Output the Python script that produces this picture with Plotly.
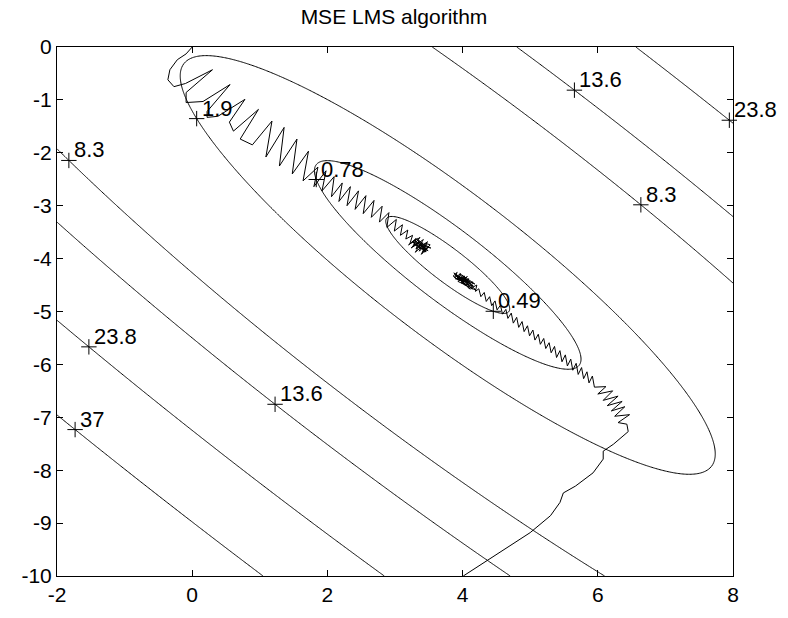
import numpy as np
import plotly.graph_objects as go

# Quadratic MSE surface  J(w) = J_MIN + (w - W_OPT)^T R (w - W_OPT)
R = [[0.515, 0.465],
     [0.465, 0.515]]
W_OPT = [3.78, -4.12]
J_MIN = 0.41
LEVELS = [0.49, 0.78, 1.9, 8.3, 13.6, 23.8, 37]

# contour label anchors (w0, w1) and the level each one belongs to
LABEL_W0 = [-1.78, -1.57, 1.18, -1.85, 0.00, 1.79, 4.43, 5.63, 6.62, 7.93]
LABEL_W1 = [-7.28, -5.71, -6.80, -2.17, -1.42, -2.55, -5.02, -0.84, -3.00, -1.40]
LABEL_LEVEL = [37, 23.8, 13.6, 8.3, 1.9, 0.78, 0.49, 13.6, 8.3, 23.8]

# LMS weight trajectory started at (0, 0)
TRAJ1_W0 = [0.00, -0.09, -0.22, -0.33, -0.36, -0.27, -0.10, 0.30, -0.09, -0.09,
            0.16, 0.56, 0.22, 0.22, 0.38, 0.78, 0.55, 0.61, 0.98, 0.71,
            0.89, 1.18, 1.09, 1.36, 1.29, 1.55, 1.48, 1.72, 1.64, 1.86,
            1.80, 1.98, 1.92, 2.10, 2.06, 2.22, 2.17, 2.34, 2.29, 2.46,
            2.41, 2.57, 2.53, 2.69, 2.65, 2.81, 2.77, 2.91, 2.88, 3.02,
            2.99, 3.11, 3.08, 3.19, 3.16, 3.26, 3.22, 3.31, 3.27, 3.36,
            3.31, 3.41, 3.36, 3.46, 3.40, 3.50, 3.44, 3.38, 3.47, 3.33,
            3.43, 3.29, 3.49, 3.35, 3.45, 3.52, 3.39, 3.48, 3.30, 3.42,
            3.24, 3.37, 3.20, 3.33, 3.44, 3.28, 3.53, 3.36, 3.46, 3.32,
            3.41, 3.26, 3.48]
TRAJ1_W1 = [0.00, -0.13, -0.24, -0.43, -0.62, -0.75, -0.69, -0.43, -0.86, -1.05,
            -1.03, -0.71, -1.22, -1.33, -1.31, -0.99, -1.42, -1.59, -1.18, -1.74,
            -1.85, -1.40, -2.08, -1.52, -2.25, -1.74, -2.40, -1.97, -2.53, -2.27,
            -2.64, -2.34, -2.72, -2.45, -2.83, -2.57, -2.92, -2.64, -3.00, -2.72,
            -3.07, -2.81, -3.15, -2.90, -3.22, -3.01, -3.31, -3.13, -3.41, -3.26,
            -3.48, -3.36, -3.56, -3.46, -3.63, -3.56, -3.72, -3.62, -3.78, -3.66,
            -3.82, -3.70, -3.86, -3.73, -3.90, -3.76, -3.88, -3.74, -3.82, -3.70,
            -3.79, -3.66, -3.85, -3.78, -3.71, -3.74, -3.92, -3.68, -3.88, -3.64,
            -3.80, -3.60, -3.74, -3.62, -3.84, -3.73, -3.80, -3.69, -3.87, -3.75,
            -3.83, -3.69, -3.77]

# LMS weight trajectory started at (4, -10)
TRAJ2_W0 = [4.01, 4.26, 4.70, 5.00, 5.30, 5.44, 5.49, 5.67, 5.93, 6.08,
            6.08, 6.23, 6.45, 6.43, 6.30, 6.47, 6.25, 6.40, 6.20, 6.36,
            6.14, 6.30, 6.08, 6.22, 6.00, 6.12, 5.95, 5.92, 5.87, 5.84,
            5.79, 5.76, 5.71, 5.68, 5.63, 5.60, 5.55, 5.52, 5.47, 5.44,
            5.39, 5.36, 5.31, 5.28, 5.23, 5.20, 5.15, 5.12, 5.07, 5.04,
            4.99, 4.96, 4.91, 4.88, 4.83, 4.80, 4.75, 4.72, 4.67, 4.64,
            4.59, 4.56, 4.51, 4.48, 4.43, 4.40, 4.35, 4.32, 4.27, 4.24,
            4.19, 4.21, 4.12, 4.15, 4.06, 4.09, 3.99, 4.03, 3.93, 3.97,
            3.88, 3.92, 3.86, 3.95, 3.90, 4.02, 3.96, 4.10, 4.00, 4.14,
            4.05, 3.94, 4.08, 3.99, 4.18, 3.91, 4.11, 3.87, 4.16, 3.98,
            4.07, 3.93, 4.20, 4.01, 3.89, 4.12, 3.96, 4.04, 3.92, 4.09]
TRAJ2_W1 = [-10.00, -9.79, -9.42, -9.18, -8.86, -8.61, -8.43, -8.30, -8.05, -7.79,
            -7.64, -7.51, -7.27, -7.13, -7.10, -6.95, -6.98, -6.80, -6.88, -6.70,
            -6.78, -6.60, -6.68, -6.50, -6.56, -6.42, -6.43, -6.22, -6.35, -6.14,
            -6.27, -6.06, -6.19, -5.98, -6.11, -5.90, -6.03, -5.82, -5.95, -5.74,
            -5.87, -5.66, -5.78, -5.59, -5.70, -5.51, -5.62, -5.43, -5.54, -5.35,
            -5.46, -5.27, -5.38, -5.19, -5.30, -5.11, -5.22, -5.03, -5.13, -4.96,
            -5.05, -4.88, -4.97, -4.80, -4.89, -4.72, -4.81, -4.64, -4.72, -4.57,
            -4.62, -4.50, -4.56, -4.44, -4.50, -4.38, -4.45, -4.33, -4.40, -4.29,
            -4.36, -4.26, -4.33, -4.41, -4.30, -4.47, -4.35, -4.52, -4.40, -4.58,
            -4.43, -4.37, -4.46, -4.31, -4.48, -4.32, -4.58, -4.27, -4.52, -4.46,
            -4.34, -4.43, -4.60, -4.36, -4.38, -4.47, -4.28, -4.51, -4.35, -4.41]

X_TICKS = [-2, 0, 2, 4, 6, 8]
X_TICK_TEXT = ["-2", "0", "2", "4", "6", "8"]
Y_TICKS = [0, -1, -2, -3, -4, -5, -6, -7, -8, -9, -10]
Y_TICK_TEXT = ["0", "-1", "-2", "-3", "-4", "-5", "-6", "-7", "-8", "-9", "-10"]

FONT = "Liberation Sans, Arial, Helvetica, sans-serif"

Rm = np.array(R)
wopt = np.array(W_OPT)


def mse(w0, w1):
    d0 = w0 - wopt[0]
    d1 = w1 - wopt[1]
    return J_MIN + Rm[0, 0] * d0 ** 2 + 2 * Rm[0, 1] * d0 * d1 + Rm[1, 1] * d1 ** 2


def snap_to_level(w0, w1, level):
    """Slide a point across the valley until it sits on the given level."""
    n = np.array([1.0, 1.0]) / np.sqrt(2.0)
    d = np.array([w0, w1]) - wopt
    a = n @ Rm @ n
    b = 2 * (n @ Rm @ d)
    c = J_MIN + d @ Rm @ d - level
    disc = max(b * b - 4 * a * c, 0.0)
    roots = [(-b + np.sqrt(disc)) / (2 * a), (-b - np.sqrt(disc)) / (2 * a)]
    k = min(roots, key=abs)
    p = np.array([w0, w1]) + k * n
    return p[0], p[1]


xg = np.linspace(-2, 8, 501)
yg = np.linspace(-10, 0, 501)
XX, YY = np.meshgrid(xg, yg)
ZZ = mse(XX, YY)

fig = go.Figure()

for lev in LEVELS:
    fig.add_trace(go.Contour(
        x=xg, y=yg, z=ZZ,
        contours=dict(start=lev, end=lev, size=1, coloring="none"),
        line=dict(color="black", width=1),
        showscale=False, hoverinfo="skip",
    ))

fig.add_trace(go.Scatter(x=TRAJ1_W0, y=TRAJ1_W1, mode="lines",
                         line=dict(color="black", width=1), hoverinfo="skip"))
fig.add_trace(go.Scatter(x=TRAJ2_W0, y=TRAJ2_W1, mode="lines",
                         line=dict(color="black", width=1), hoverinfo="skip"))

lx, ly = [], []
for w0, w1, lev in zip(LABEL_W0, LABEL_W1, LABEL_LEVEL):
    px, py = snap_to_level(w0, w1, lev)
    lx.append(px)
    ly.append(py)
    fig.add_annotation(x=px, y=py, text=f"{lev:g}", showarrow=False,
                       xanchor="left", yanchor="bottom", xshift=3, yshift=-4,
                       font=dict(family=FONT, size=22, color="black"))

fig.add_trace(go.Scatter(x=lx, y=ly, mode="markers",
                         marker=dict(symbol="cross-thin", size=11,
                                     line=dict(color="black", width=1)),
                         hoverinfo="skip", cliponaxis=False))

axis_common = dict(
    showline=True, linecolor="black", linewidth=1, mirror="ticks",
    ticks="inside", ticklen=6, tickcolor="black", tickwidth=1,
    showgrid=False, zeroline=False,
    tickfont=dict(family=FONT, size=21, color="black"),
)

fig.update_layout(
    width=788, height=618,
    margin=dict(l=57, r=55, t=47, b=37),
    paper_bgcolor="white", plot_bgcolor="white",
    showlegend=False,
    title=dict(text="MSE LMS algorithm", x=0.5, xanchor="center",
               y=1 - 17 / 618, yanchor="middle",
               font=dict(family=FONT, size=21, color="black")),
    xaxis=dict(range=[-2, 8], tickvals=X_TICKS, ticktext=X_TICK_TEXT, **axis_common),
    yaxis=dict(range=[-10, 0], tickvals=Y_TICKS, ticktext=Y_TICK_TEXT, **axis_common),
)

fig.write_html("out.html")
